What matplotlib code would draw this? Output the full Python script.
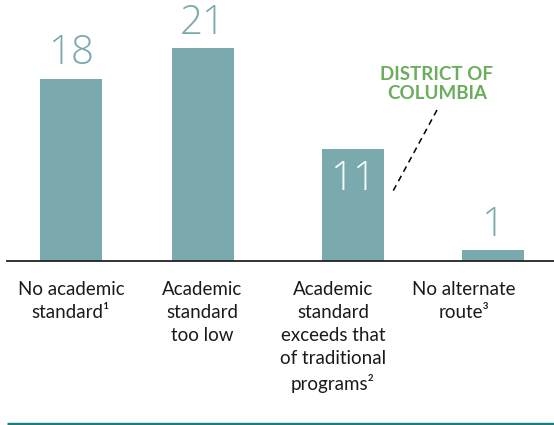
import matplotlib
matplotlib.use("Agg")
import matplotlib.pyplot as plt

plt.rcParams['font.family'] = ['Lato', 'DejaVu Sans']

# data
categories = ["No academic\nstandard¹", "Academic\nstandard\ntoo low",
              "Academic\nstandard\nexceeds that\nof traditional\nprograms²",
              "No alternate\nroute³"]
values = [18, 21, 11, 1]

bar_x = [71, 203, 353, 493]      # bar centres (px)
label_x = [71, 202, 333, 464]    # category label centres (px)

bar_color = '#7aa9ae'
green = '#6aad5c'
teal = '#17807f'

W, H = 554, 425
fig = plt.figure(figsize=(W / 100, H / 100), dpi=100)
ax = fig.add_axes([0, 0, 1, 1])
base = 260.5
ppu = 10.1
ax.set_xlim(0, W)
ax.set_ylim((base - H) / ppu, base / ppu)
ax.axis('off')

ax.bar(bar_x, values, width=62, color=bar_color, zorder=2)
ax.plot([7, W], [0, 0], color='#222222', lw=1.3, zorder=3)

# value labels
for x, v in zip(bar_x, values):
    if v == 11:
        ax.text(x, v - 3.0, str(v), ha='center', va='center', fontsize=29,
                color='white', family=['Open Sans', 'DejaVu Sans'],
                fontweight=300)
    else:
        ax.text(x, v + 2.5, str(v), ha='center', va='center', fontsize=29,
                color=bar_color, family=['Open Sans', 'DejaVu Sans'],
                fontweight=300)

# category labels
for x, lab in zip(label_x, categories):
    ax.text(x, -2.05, lab, ha='center', va='top', fontsize=13.5,
            color='#1a1a1a', linespacing=1.42)

# District of Columbia annotation
ax.text(437, (base - 84) / ppu, "DISTRICT OF\nCOLUMBIA", ha='center',
        va='center', fontsize=13.5, fontweight='bold', color=green,
        linespacing=1.15)
ax.plot([437, 392], [(base - 110) / ppu, (base - 193) / ppu], color='black',
        lw=1.1, ls=(0, (4, 3)))

# bottom rule
ax.plot([7, W], [(base - 423.5) / ppu] * 2, color=teal, lw=2.4,
        solid_capstyle='butt')

fig.savefig("out.png", dpi=100)
